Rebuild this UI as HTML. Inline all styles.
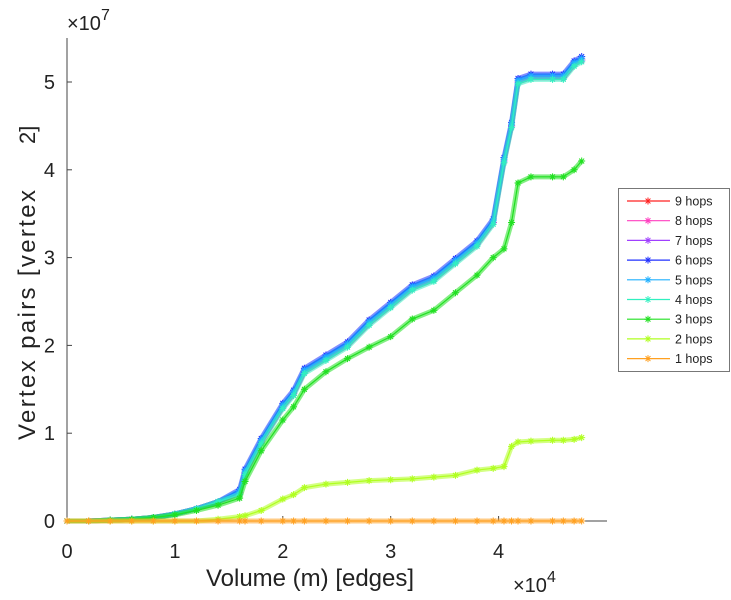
<!DOCTYPE html>
<html><head><meta charset="utf-8"><style>
body{margin:0;background:#fff;}
svg{display:block;font-family:"Liberation Sans",sans-serif;}
</style></head><body>
<svg id="chart" width="731" height="600" viewBox="0 0 731 600">
<g id="axes"></g>
<g id="series"></g>
<g id="legend"></g>
</svg>
<script>
const xVals = [0,0.2,0.4,0.6,0.8,1.0,1.2,1.4,1.6,1.65,1.8,2.0,2.1,2.2,2.4,2.6,2.8,3.0,3.2,3.4,3.6,3.8,3.95,4.05,4.12,4.18,4.3,4.5,4.6,4.7,4.77];
const upperVals = [0,0,0.01,0.02,0.04,0.08,0.14,0.22,0.32,0.55,0.9,1.3,1.45,1.7,1.85,2.0,2.25,2.45,2.65,2.75,2.95,3.15,3.4,4.1,4.5,5.0,5.05,5.05,5.05,5.2,5.25];
const threeVals = [0,0,0.01,0.02,0.04,0.07,0.12,0.18,0.26,0.45,0.8,1.15,1.3,1.5,1.7,1.85,1.98,2.1,2.3,2.4,2.6,2.8,3.0,3.1,3.4,3.85,3.92,3.92,3.92,4.0,4.1];
const twoVals = [0,0,0,0,0,0,0,0.02,0.05,0.06,0.12,0.25,0.3,0.38,0.42,0.44,0.46,0.47,0.48,0.5,0.52,0.58,0.6,0.62,0.85,0.9,0.91,0.92,0.92,0.93,0.95];
const oneVals = [0,0,0,0,0,0,0,0,0,0,0,0,0,0,0,0,0,0,0,0,0,0,0,0,0,0,0,0,0,0,0];
const seriesNames = ["9 hops","8 hops","7 hops","6 hops","5 hops","4 hops","3 hops","2 hops","1 hops"];
const seriesColors = ["#ff2020","#ff40c0","#a040ff","#2030ff","#20b0ff","#30f0c0","#20e020","#b0ff20","#ffa020"];
const xTicks = [0,1,2,3,4];
const yTicks = [0,1,2,3,4,5];

const NS="http://www.w3.org/2000/svg";
const X0=67, XS=107.9, Y0=521, YS=87.8;
const xs=v=>X0+v*XS, ys=v=>Y0-v*YS;
function mk(t,a,p){const e=document.createElementNS(NS,t);for(const k in a)e.setAttribute(k,a[k]);p.appendChild(e);return e;}
const axes=document.getElementById('axes');
let e;
e=mk('line',{x1:X0,y1:Y0,x2:607,y2:Y0,stroke:'#444','stroke-width':1},axes);


e=mk('line',{x1:X0,y1:Y0,x2:X0,y2:38,stroke:'#444','stroke-width':1},axes);


xTicks.forEach(t=>{
  mk('line',{x1:xs(t),y1:Y0,x2:xs(t),y2:Y0-5,stroke:'#444'},axes);
  e=mk('text',{x:xs(t),y:558,'text-anchor':'middle','font-size':20,fill:'#222'},axes);
  e.textContent=t;
  
  
});
yTicks.forEach(t=>{
  mk('line',{x1:X0,y1:ys(t),x2:X0+5,y2:ys(t),stroke:'#444'},axes);
  e=mk('text',{x:55,y:ys(t)+7,'text-anchor':'end','font-size':20,fill:'#222'},axes);
  e.textContent=t;
  
  
});
e=mk('text',{x:67,y:30,'font-size':20,fill:'#222'},axes);
e.innerHTML='×10<tspan dy="-10" font-size="16">7</tspan>';


e=mk('text',{x:513,y:592,'font-size':20,fill:'#222'},axes);
e.innerHTML='×10<tspan dy="-10" font-size="16">4</tspan>';


e=mk('text',{x:310,y:586,'text-anchor':'middle','font-size':24,fill:'#222'},axes);
e.textContent='Volume (m) [edges]';


e=mk('text',{x:0,y:0,'font-size':24,fill:'#222',textLength:250,lengthAdjust:'spacing',transform:'translate(35,440) rotate(-90)'},axes);
e.textContent='Vertex pairs [vertex';


e=mk('text',{x:0,y:0,'font-size':22,fill:'#222',transform:'translate(35,144) rotate(-90)'},axes);
e.textContent='2]';



const seriesData=[upperVals,upperVals,upperVals,upperVals,upperVals,upperVals,threeVals,twoVals,oneVals];
const offsets=[0,0,0,0.04,0.02,-0.02,0,0,0];
const sg=document.getElementById('series');
function star(g,cx,cy,c){
  const r=3.5;
  mk('path',{d:`M${cx-r},${cy}H${cx+r}M${cx},${cy-r}V${cy+r}M${cx-r*0.7},${cy-r*0.7}L${cx+r*0.7},${cy+r*0.7}M${cx-r*0.7},${cy+r*0.7}L${cx+r*0.7},${cy-r*0.7}`,stroke:c,'stroke-width':1,fill:'none'},g);
}
seriesData.forEach((vals,i)=>{
  const g=mk('g',{},sg);
  
  
  const c=seriesColors[i];
  const pts=vals.map((v,j)=>xs(xVals[j])+','+ys(v+(v>0.3?offsets[i]:0))).join(' ');
  mk('polyline',{points:pts,fill:'none',stroke:c,'stroke-width':5,'stroke-opacity':0.55,'stroke-linejoin':'round'},g);
  mk('polyline',{points:pts,fill:'none',stroke:c,'stroke-width':1.2},g);
  vals.forEach((v,j)=>star(g,xs(xVals[j]),ys(v+(v>0.3?offsets[i]:0)),c));
});

const lg=document.getElementById('legend');
e=mk('rect',{x:618.5,y:188.5,width:111,height:183,fill:'#fff',stroke:'#777','stroke-width':1},lg);


seriesNames.forEach((n,i)=>{
  const y=201+i*19.7;
  const g=mk('g',{},lg);
  
  
  mk('line',{x1:627,y1:y,x2:670,y2:y,stroke:seriesColors[i],'stroke-width':1.2},g);
  star(g,648,y,seriesColors[i]);
  const t=mk('text',{x:675,y:y+4.5,'font-size':12.5,fill:'#222'},g);
  t.textContent=n;
});
</script>
</body></html>
